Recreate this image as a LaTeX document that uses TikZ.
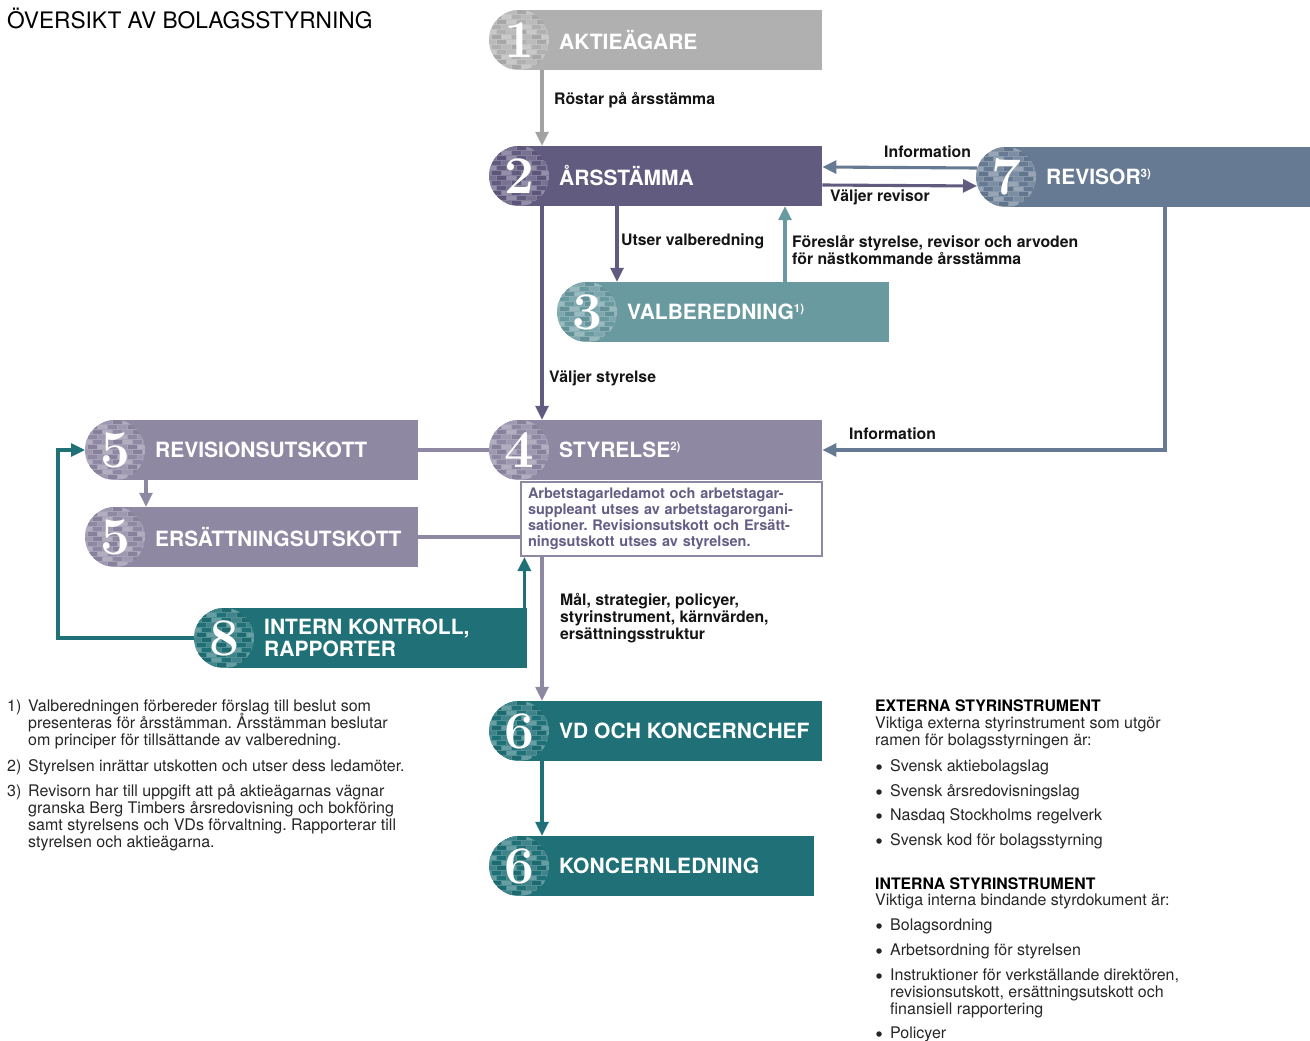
\documentclass[tikz,border=0pt]{standalone}
\usepackage{fontspec}
\setsansfont{TeX Gyre Heros}
\usetikzlibrary{arrows.meta}
\frenchspacing

\definecolor{colAkt}{HTML}{B0B0B0}
\definecolor{colStm}{HTML}{625B80}
\definecolor{colRev}{HTML}{667B93}
\definecolor{colVal}{HTML}{699AA0}
\definecolor{colSty}{HTML}{8E88A3}
\definecolor{colVd}{HTML}{1F7077}
\definecolor{colNote}{HTML}{655D85}

\newcommand{\tightlines}{\setlength{\lineskiplimit}{-8pt}}

\tikzset{
  bar/.style={anchor=west, minimum height=60pt, inner sep=0pt},
  digit/.style={text=white, inner sep=0pt, font=\fontsize{53}{53}\selectfont\bfseries},
  bartext/.style={anchor=west, text=white, inner sep=0pt, align=left, font=\sffamily\bfseries\fontsize{21}{22}\selectfont},
  lbl/.style={anchor=west, inner sep=0pt, align=left, text=black!92, font=\sffamily\bfseries\fontsize{15.8}{17}\selectfont\tightlines},
  note/.style={anchor=west, inner sep=0pt, align=left, text=black!85, font=\sffamily\fontsize{16}{17}\selectfont\tightlines},
  dot/.style={circle, fill=black!85, inner sep=0pt, minimum size=5.5pt},
  link/.style={line width=3.1pt, -{Triangle[length=14pt,width=13pt]}},
  plain/.style={line width=3.1pt},
}

\newcommand{\supnote}[1]{\raisebox{7pt}{\fontsize{11.5}{11.5}\selectfont #1}}

% brick-textured disc behind the number
\newcommand{\stone}[3]{%
  \begin{scope}
    \clip (#1,#2) circle[radius=30pt];
    \fill[#3!78!white] (#1,#2) circle[radius=30pt];
    \foreach \row in {0,...,11}{
      \foreach \col in {0,...,6}{
        \pgfmathtruncatemacro\tone{mod(\row*5+\col*3,4)}
        \ifcase\tone \def\mix{#3!68!white}\or \def\mix{#3!95!black}\or \def\mix{#3!86!white}\else \def\mix{#3}\fi
        \fill[fill=\mix] ({#1-32+\col*10+mod(\row,2)*5},{#2-30+\row*5}) rectangle ++(8.5,4);
      }
    }
  \end{scope}}

% name, x, y, width, colour, digit, text
\newcommand{\govbox}[7]{%
  \node[bar, fill=#5, minimum width=#4pt] (#1) at (#2,#3) {};
  \stone{#2}{#3}{#5}
  \node[digit] (#1-n) at (#2,#3) {#6};
  \node[bartext] (#1-t) at (#2+40,#3) {#7};
}

\begin{document}
\begin{tikzpicture}[x=1pt, y=-1pt]
\useasboundingbox (0,0) rectangle (1310,1041);

\node[note, text=black, font=\sffamily\fontsize{22.7}{24}\selectfont] (title) at (7,18) {ÖVERSIKT AV BOLAGSSTYRNING};

% boxes
\govbox{aktie}{519}{40}{303}{colAkt}{1}{AKTIEÄGARE}
\govbox{stamma}{519}{176}{303}{colStm}{2}{ÅRSSTÄMMA}
\govbox{revisor}{1006}{177}{304}{colRev}{7}{REVISOR\supnote{3)}}
\govbox{valb}{587}{312}{302}{colVal}{3}{VALBEREDNING\supnote{1)}}
\govbox{styr}{519}{450}{303}{colSty}{4}{STYRELSE\supnote{2)}}
\node[draw=colSty, line width=2pt, anchor=north west, text width=287pt, inner xsep=7pt,
      minimum height=74pt, align=left, text=colNote,
      font=\sffamily\bfseries\fontsize{14.5}{16}\selectfont] (styrnote) at (520,481)
  {Arbetstagarledamot och arbetstagar-\\suppleant utses av arbetstagarorgani-\\sationer. Revisionsutskott och Ersätt-\\ningsutskott utses av styrelsen.};
\govbox{revu}{115}{450}{303}{colSty}{5}{REVISIONSUTSKOTT}
\govbox{ersu}{115}{537}{303}{colSty}{5}{ERSÄTTNINGSUTSKOTT}
\govbox{intern}{224}{638}{303}{colVd}{8}{INTERN KONTROLL,\\RAPPORTER}
\govbox{vd}{519}{731}{303}{colVd}{6}{VD OCH KONCERNCHEF}
\govbox{ledn}{519}{866}{295}{colVd}{6}{KONCERNLEDNING}

% connectors
\draw[link, colAkt!92!black] ([xshift=23pt]aktie.south west) -- ([xshift=23pt]stamma.north west);
\draw[link, colRev] ([shift={(-29pt,9pt)}]revisor.west) -- ([yshift=9pt]stamma.east);
\draw[link, colStm] ([yshift=-9pt]stamma.east) -- ([shift={(-29pt,-9pt)}]revisor.west);
\draw[link, colStm] ([xshift=98pt]stamma.south west) -- ([xshift=30pt]valb.north west);
\draw[link, colVal] ([xshift=198pt]valb.north west) -- ([xshift=266pt]stamma.south west);
\draw[link, colStm] ([xshift=23pt]stamma.south west) -- ([xshift=23pt]styr.north west);
\draw[link, colRev] ([xshift=159pt]revisor.south west) |- (styr.east);
\draw[plain, colSty] (revu.east) -- ([xshift=-30pt]styr.west);
\draw[plain, colSty] (ersu.east) -- (styrnote.west |- ersu.east);
\draw[link, colSty] ([xshift=31pt]revu.south west) -- ([xshift=31pt]ersu.north west);
\draw[link, colVd] ([xshift=-3pt]intern.north east) -- ([xshift=-3pt]intern.north east |- styrnote.south);
\draw[link, colVd] ([xshift=-30pt]intern.west) -- ++(-136pt,0) |- ([xshift=-30pt]revu.west);
\draw[link, colSty] ([xshift=22pt]styrnote.south west) -- ([xshift=23pt]vd.north west);
\draw[link, colVd] ([xshift=23pt]vd.south west) -- ([xshift=23pt]ledn.north west);

% labels
\node[lbl] (l-rost) at (554,100) {Röstar på årsstämma};
\node[lbl] (l-info1) at (884,152) {Information};
\node[lbl] (l-valjrev) at (830,197) {Väljer revisor};
\node[lbl] (l-utser) at (621,241) {Utser valberedning};
\node[lbl] (l-foresl) at (792,249.5) {Föreslår styrelse, revisor och arvoden\\för nästkommande årsstämma};
\node[lbl] (l-valjsty) at (549,378) {Väljer styrelse};
\node[lbl] (l-info2) at (849,434) {Information};
\node[lbl] (l-mal) at (560,618) {Mål, strategier, policyer,\\styrinstrument, kärnvärden,\\ersättningsstruktur};

% footnotes
\node[note] (fn1n) at (7,707) {1)};
\node[note] (fn1) at (28,724) {Valberedningen förbereder förslag till beslut som\\presenteras för årsstämman. Årsstämman beslutar\\om principer för tillsättande av valberedning.};
\node[note] (fn2n) at (7,767) {2)};
\node[note] (fn2) at (28,767) {Styrelsen inrättar utskotten och utser dess ledamöter.};
\node[note] (fn3n) at (7,792) {3)};
\node[note] (fn3) at (28,817.5) {Revisorn har till uppgift att på aktieägarnas vägnar\\granska Berg Timbers årsredovisning och bokföring\\samt styrelsens och VDs förvaltning. Rapporterar till\\styrelsen och aktieägarna.};

% governing instruments
\node[note, text=black, font=\sffamily\bfseries\fontsize{15.8}{17}\selectfont] (ext) at (875,706) {EXTERNA STYRINSTRUMENT};
\node[note] (extdesc) at (875,732.5) {Viktiga externa styrinstrument som utgör\\ramen för bolagsstyrningen är:};
\node[note] (ext1) at (890,767) {Svensk aktiebolagslag};
\node[note] (ext2) at (890,792) {Svensk årsredovisningslag};
\node[note] (ext3) at (890,816) {Nasdaq Stockholms regelverk};
\node[note] (ext4) at (890,841) {Svensk kod för bolagsstyrning};
\node[note, text=black, font=\sffamily\bfseries\fontsize{15.8}{17}\selectfont] (int) at (875,884) {INTERNA STYRINSTRUMENT};
\node[note] (intdesc) at (875,901) {Viktiga interna bindande styrdokument är:};
\node[note] (int1) at (890,926) {Bolagsordning};
\node[note] (int2) at (890,951) {Arbetsordning för styrelsen};
\node[note] (int3) at (890,993) {Instruktioner för verkställande direktören,\\revisionsutskott, ersättningsutskott och\\finansiell rapportering};
\node[note] (int4) at (890,1034) {Policyer};
\foreach \y in {767,792,816,841,926,951,976,1034}
  \node[dot] (bul\y) at (879,\y) {};
\end{tikzpicture}
\end{document}
